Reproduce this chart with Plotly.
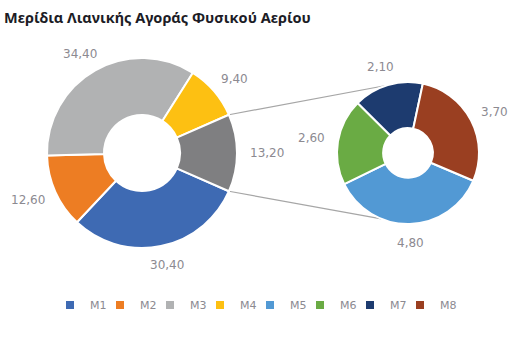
import math
import plotly.graph_objects as go

W, H = 521, 337

# Main breakdown (the last slice groups M5-M8)
main_labels = ["M1", "M2", "M3", "M4", "M5-M8"]
main_values = [30.40, 12.60, 34.40, 9.40, 13.20]

# Breakdown of the grouped slice
detail_labels = ["M5", "M6", "M7", "M8"]
detail_values = [4.80, 2.60, 2.10, 3.70]

legend_labels = ["M1", "M2", "M3", "M4", "M5", "M6", "M7", "M8"]

colors = {
    "M1": "#3e6ab3", "M2": "#ed7d23", "M3": "#b1b2b3", "M4": "#fdc012",
    "M5": "#5299d4", "M6": "#6aab44", "M7": "#1d3b6f", "M8": "#9a3f21",
    "M5-M8": "#7f7f81",
}

title_text = "Μερίδια Λιανικής Αγοράς Φυσικού Αερίου"

# Pie geometry in pixels (centre measured from top-left)
L_CX, L_CY, L_R = 142, 153, 95
R_CX, R_CY, R_R = 408, 153, 71
LABEL_GAP = 12
LABEL_FONT = dict(family="DejaVu Sans", size=12, color="#8c8a91")

# Grouped slice centred at 3 o'clock
main_total = sum(main_values)
main_rotation = 90 + main_values[-1] / main_total * 180
detail_rotation = 113


def domain(cx, cy, r):
    return dict(x=[(cx - r) / W, (cx + r) / W],
                y=[(H - cy - r) / H, (H - cy + r) / H])


def fmt(v):
    return f"{v:.2f}".replace(".", ",")


def slice_annotations(values, rotation, cx, cy, r):
    total = sum(values)
    start = rotation
    anns = []
    for v in values:
        span = v / total * 360
        mid = math.radians(start + span / 2)
        start += span
        ux, uy = math.sin(mid), math.cos(mid)
        text = fmt(v)
        hw, hh = len(text) * 3.6, 7
        x = cx + (r + LABEL_GAP) * ux + hw * ux
        y = (H - cy) + (r + LABEL_GAP) * uy + hh * uy
        anns.append(dict(x=x / W, y=y / H, xref="paper", yref="paper",
                         text=text, showarrow=False, xanchor="center",
                         yanchor="middle", font=LABEL_FONT))
    return anns


fig = go.Figure()

fig.add_trace(go.Pie(
    labels=main_labels, values=main_values, sort=False,
    direction="clockwise", rotation=main_rotation, hole=0.4,
    marker=dict(colors=[colors[l] for l in main_labels],
                line=dict(color="white", width=2)),
    textinfo="none", showlegend=False, domain=domain(L_CX, L_CY, L_R),
    hoverinfo="label+value",
))

fig.add_trace(go.Pie(
    labels=detail_labels, values=detail_values, sort=False,
    direction="clockwise", rotation=detail_rotation, hole=0.35,
    marker=dict(colors=[colors[l] for l in detail_labels],
                line=dict(color="white", width=2)),
    textinfo="none", showlegend=False, domain=domain(R_CX, R_CY, R_R),
    hoverinfo="label+value",
))

# Legend entries
for i, lab in enumerate(legend_labels):
    fig.add_trace(go.Scatter(
        x=[None], y=[None], mode="markers", name=lab,
        marker=dict(symbol="square", size=8, color=colors[lab]),
        hoverinfo="skip",
        legendwidth=30 if i == len(legend_labels) - 1 else None,
    ))

# Connector lines from the grouped slice to the breakdown pie
grp_span = main_values[-1] / main_total * 360
a_top = math.radians(main_rotation - grp_span)
a_bot = math.radians(main_rotation)
r_top, r_bot = math.radians(342), math.radians(202)
connectors = [
    ((L_CX + L_R * math.sin(a_top), L_CY - L_R * math.cos(a_top)),
     (R_CX + R_R * math.sin(r_top), R_CY - R_R * math.cos(r_top))),
    ((L_CX + L_R * math.sin(a_bot), L_CY - L_R * math.cos(a_bot)),
     (R_CX + R_R * math.sin(r_bot), R_CY - R_R * math.cos(r_bot))),
]
shapes = [dict(type="line", xref="paper", yref="paper",
               x0=p0[0] / W, y0=(H - p0[1]) / H, x1=p1[0] / W, y1=(H - p1[1]) / H,
               line=dict(color="#a6a6a6", width=1.2), layer="below")
          for p0, p1 in connectors]

annotations = (slice_annotations(main_values, main_rotation, L_CX, L_CY, L_R)
               + slice_annotations(detail_values, detail_rotation, R_CX, R_CY, R_R))

fig.update_layout(
    width=W, height=H,
    margin=dict(l=0, r=0, t=0, b=0),
    paper_bgcolor="white", plot_bgcolor="white",
    title=dict(text=title_text, x=4 / W, xanchor="left", xref="paper",
               y=1 - 18 / H, yanchor="middle",
               font=dict(family="Noto Sans", size=14.5, color="#1c1c26", weight="bold")),
    xaxis=dict(visible=False), yaxis=dict(visible=False),
    showlegend=True,
    legend=dict(orientation="h", x=50 / W, xanchor="left",
                y=(H - 305) / H, yanchor="middle",
                font=dict(family="DejaVu Sans", size=11, color="#8c8a91"),
                entrywidth=5, entrywidthmode="pixels",
                bgcolor="rgba(0,0,0,0)"),
    shapes=shapes,
    annotations=annotations,
)

fig.write_html("out.html")
